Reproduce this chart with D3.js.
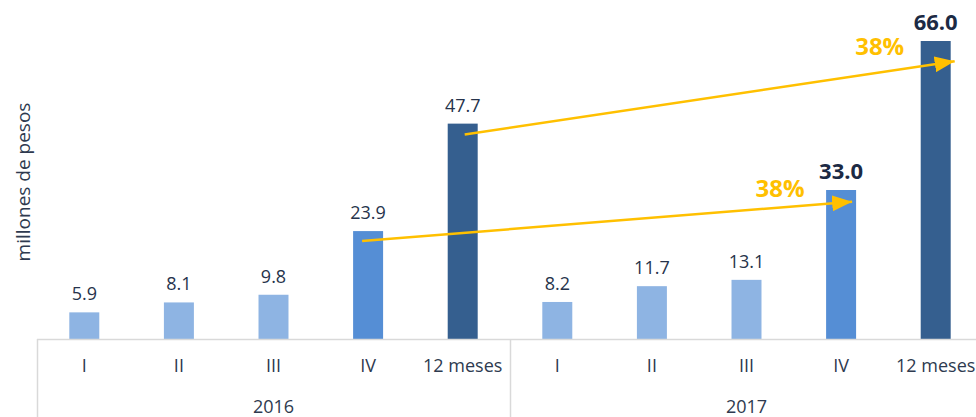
<!DOCTYPE html>
<html>
<head>
<meta charset="utf-8">
<script src="https://cdn.jsdelivr.net/npm/d3@7"></script>
<style>
  body { margin: 0; background: #fff; }
  svg { display: block; font-family: "Open Sans", "Noto Sans", sans-serif; }
</style>
</head>
<body>
<svg></svg>
<script>
// data
var years = ["2016", "2017"];
var periods = ["I", "II", "III", "IV", "12 meses"];
var values2016 = [5.9, 8.1, 9.8, 23.9, 47.7];
var values2017 = [8.2, 11.7, 13.1, 33.0, 66.0];
var growthLabels = ["38%", "38%"];
// arrows: from [year, period, value] to [year, period, value]
var arrowFrom = [["2016", "IV", 21.7], ["2016", "12 meses", 45.3]];
var arrowTo = [["2017", "IV", 30.4], ["2017", "12 meses", 61.5]];

var width = 976, height = 417;
var baseY = 339;
var left = 37;
var step = 94.6;

var svg = d3.select("svg").attr("width", width).attr("height", height);

var rows = [];
years.forEach(function(y, yi) {
  var vals = yi == 0 ? values2016 : values2017;
  periods.forEach(function(p, pi) {
    rows.push({ year: y, period: p, value: vals[pi], idx: pi });
  });
});
var key = function(y, p) { return y + "|" + p; };

var x = d3.scaleBand()
  .domain(rows.map(d => key(d.year, d.period)))
  .range([left, left + step * rows.length])
  .paddingInner(0.683)
  .paddingOuter(0.3415);

var y = d3.scaleLinear().domain([0, 66]).range([baseY, baseY - 298]);

var color = function(d) {
  if (d.period == "12 meses") return "#355f8f";
  if (d.period == "IV") return "#558ed5";
  return "#8eb4e3";
};
var isBold = d => d.year == "2017" && (d.period == "IV" || d.period == "12 meses");

// bars
svg.selectAll("rect.bar")
  .data(rows)
  .enter()
  .append("rect")
    .attr("class", "bar")
    .attr("x", d => x(key(d.year, d.period)))
    .attr("y", d => y(d.value))
    .attr("width", x.bandwidth())
    .attr("height", d => baseY - y(d.value))
    .attr("fill", color);

// value labels
svg.selectAll("text.val")
  .data(rows)
  .enter()
  .append("text")
    .attr("class", "val")
    .attr("x", d => x(key(d.year, d.period)) + x.bandwidth() / 2)
    .attr("y", d => y(d.value) - (isBold(d) ? 11 : 12))
    .attr("text-anchor", "middle")
    .style("font-size", d => isBold(d) ? "22px" : "18px")
    .style("font-weight", d => isBold(d) ? "bold" : "normal")
    .style("fill", d => isBold(d) ? "#1c2a44" : "#26334b")
    .text(d => d.value.toFixed(1));

// category axis
var axisCol = "#d9d9d9";
svg.append("line")
  .attr("x1", left).attr("x2", width)
  .attr("y1", baseY + 0.5).attr("y2", baseY + 0.5)
  .attr("stroke", axisCol).attr("stroke-width", 1.5);

years.forEach(function(yr, yi) {
  var x0 = left + yi * step * periods.length;
  svg.append("line")
    .attr("x1", x0 + 0.5).attr("x2", x0 + 0.5)
    .attr("y1", baseY).attr("y2", height)
    .attr("stroke", axisCol).attr("stroke-width", 1.5);
  svg.append("text")
    .attr("x", x0 + step * periods.length / 2)
    .attr("y", 413)
    .attr("text-anchor", "middle")
    .style("font-size", "18px")
    .style("fill", "#2e3a4f")
    .text(yr);
});

svg.selectAll("text.cat")
  .data(rows)
  .enter()
  .append("text")
    .attr("class", "cat")
    .attr("x", d => x(key(d.year, d.period)) + x.bandwidth() / 2)
    .attr("y", 372)
    .attr("text-anchor", "middle")
    .style("font-size", "18px")
    .style("fill", "#2e3a4f")
    .text(d => d.period);

// y axis title
svg.append("text")
  .attr("transform", "translate(30,182) rotate(-90)")
  .attr("text-anchor", "middle")
  .style("font-size", "19px")
  .style("fill", "#2e3a4f")
  .text("millones de pesos");

// growth arrows
svg.append("defs").append("marker")
  .attr("id", "head")
  .attr("markerUnits", "userSpaceOnUse")
  .attr("viewBox", "0 0 20 16")
  .attr("refX", 20).attr("refY", 8)
  .attr("markerWidth", 20).attr("markerHeight", 16)
  .attr("orient", "auto")
  .append("path")
    .attr("d", "M0,0 L20,8 L0,16 Z")
    .attr("fill", "#ffc000");

var arrowOffsetFrom = [-6, 2];
var arrowOffsetTo = [11, 19];
arrowFrom.forEach(function(f, i) {
  var t = arrowTo[i];
  var x1 = x(key(f[0], f[1])) + x.bandwidth() / 2 + arrowOffsetFrom[i];
  var x2 = x(key(t[0], t[1])) + x.bandwidth() / 2 + arrowOffsetTo[i];
  svg.append("line")
    .attr("x1", x1).attr("y1", y(f[2]))
    .attr("x2", x2).attr("y2", y(t[2]))
    .attr("stroke", "#ffc000")
    .attr("stroke-width", 2.5)
    .attr("marker-end", "url(#head)");
  svg.append("text")
    .attr("x", x(key(t[0], t[1])) + x.bandwidth() / 2 - (i == 0 ? 61 : 56))
    .attr("y", y(t[2]) - (i == 0 ? 5 : 6))
    .attr("text-anchor", "middle")
    .style("font-size", "24px")
    .style("font-weight", "bold")
    .style("fill", "#ffc000")
    .text(growthLabels[i]);
});
</script>
</body>
</html>
